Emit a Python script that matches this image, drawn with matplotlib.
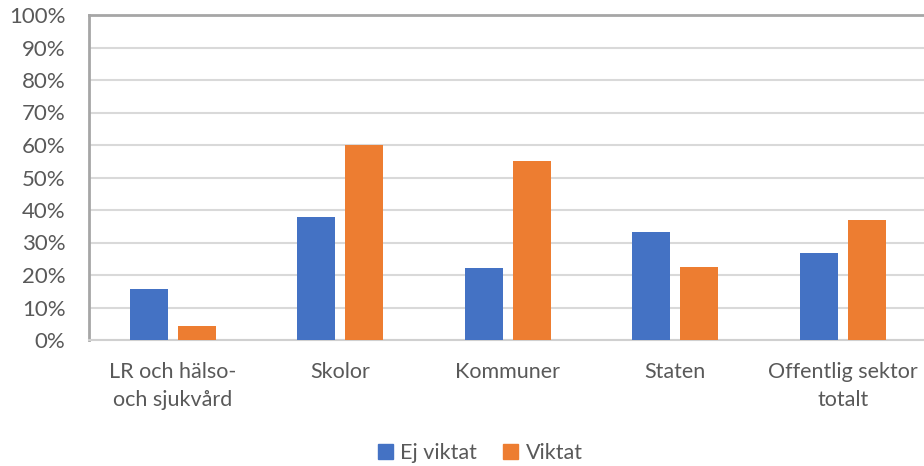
import matplotlib
matplotlib.use("Agg")
import matplotlib.pyplot as plt
import numpy as np
from matplotlib.ticker import FuncFormatter, MultipleLocator
from matplotlib.patches import Patch

categories = ["LR och hälso-\noch sjukvård", "Skolor", "Kommuner", "Staten", "Offentlig sektor\ntotalt"]
ej_viktat = [15.6, 38.0, 22.1, 33.2, 26.7]
viktat = [4.2, 59.9, 55.1, 22.4, 36.8]
series_names = ["Ej viktat", "Viktat"]

blue = "#4472C4"
orange = "#ED7D31"
text_color = "#595959"

plt.rcParams['font.family'] = ['Lato', 'DejaVu Sans']

fig = plt.figure(figsize=(9.24, 4.66), dpi=100)
W, H = 924, 466
left, right = 89, 926.5
top, bottom = 15, 340
ax = fig.add_axes([left / W, 1 - bottom / H, (right - left) / W, (bottom - top) / H])

x = np.arange(len(categories))
bw = 0.227
off = 0.143
ax.bar(x - off, ej_viktat, bw, color=blue, zorder=3)
ax.bar(x + off, viktat, bw, color=orange, zorder=3)

ax.set_xlim(-0.5, len(categories) - 0.5)
ax.set_ylim(0, 100)
ax.yaxis.set_major_locator(MultipleLocator(10))
ax.yaxis.set_major_formatter(FuncFormatter(lambda v, p: f"{int(round(v))}%"))
ax.grid(axis='y', color='#d9d9d9', linewidth=1.5, zorder=0)

ax.spines['right'].set_visible(False)
ax.spines['left'].set_color('#a6a6a6')
ax.spines['left'].set_linewidth(2)
ax.spines['top'].set_color('#a6a6a6')
ax.spines['top'].set_linewidth(2)
ax.spines['bottom'].set_color('#d0d0d0')
ax.spines['bottom'].set_linewidth(1.5)

ax.tick_params(axis='both', length=0, labelcolor=text_color)
ax.tick_params(axis='y', pad=17, labelsize=16)
ax.tick_params(axis='x', pad=16, labelsize=15.5)
ax.set_xticks(x)
ax.set_xticklabels(categories, linespacing=1.5)

handles = [Patch(color=blue), Patch(color=orange)]
fig.legend(handles, series_names, loc='center', bbox_to_anchor=(480 / W, 1 - 453 / H),
           ncol=2, frameon=False, fontsize=15.5, labelcolor=text_color,
           handlelength=0.7, handleheight=0.7, handletextpad=0.35, columnspacing=1.2)

fig.savefig("out.png", dpi=100)
